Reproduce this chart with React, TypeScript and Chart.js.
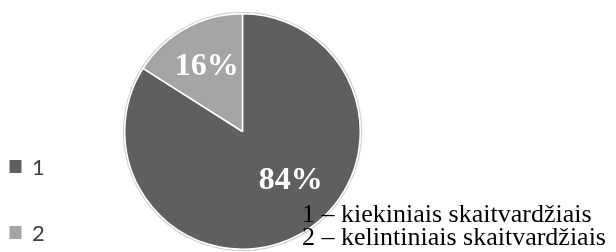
import React, { useEffect, useRef } from "react";
import { Chart, registerables } from "chart.js";

Chart.register(...registerables);

const categories = ["1", "2"];
const values = [84, 16];
const valueLabels = ["84%", "16%"];
const colors = ["#5f5f5f", "#a5a5a5"];
const noteLines = ["1 – kiekiniais skaitvardžiais", "2 – kelintiniais skaitvardžiais"];

const overlayPlugin = {
  id: "overlay",
  beforeDatasetsDraw(chart: any) {
    const ctx = chart.ctx;
    const arc = chart.getDatasetMeta(0).data[0];
    if (!arc) return;
    ctx.save();
    ctx.beginPath();
    ctx.arc(arc.x, arc.y, arc.outerRadius + 1.2, 0, Math.PI * 2);
    ctx.strokeStyle = "rgba(0,0,0,0.18)";
    ctx.lineWidth = 1.5;
    ctx.stroke();
    ctx.restore();
  },
  afterDatasetsDraw(chart: any) {
    const ctx = chart.ctx;
    const meta = chart.getDatasetMeta(0);
    const place = [
      { frac: 0.585, shift: -15.6 },
      { frac: 0.63, shift: 0 },
    ];
    ctx.save();
    // data labels
    ctx.font = "bold 32px 'Liberation Serif', 'Times New Roman', serif";
    ctx.fillStyle = "#ffffff";
    ctx.textAlign = "center";
    ctx.textBaseline = "middle";
    meta.data.forEach((arc: any, i: number) => {
      const mid = (arc.startAngle + arc.endAngle) / 2 + (place[i].shift * Math.PI) / 180;
      const d = arc.outerRadius * place[i].frac;
      ctx.fillText(valueLabels[i], arc.x + d * Math.cos(mid), arc.y + d * Math.sin(mid));
    });
    // legend
    const legendY = [160, 226];
    ctx.textAlign = "left";
    ctx.textBaseline = "alphabetic";
    ctx.font = "22px Lato, 'Open Sans', sans-serif";
    categories.forEach((c, i) => {
      ctx.fillStyle = colors[i];
      ctx.fillRect(9.5, legendY[i], 12, 13);
      ctx.fillStyle = "#404040";
      ctx.fillText(c, 32, legendY[i] + 15);
    });
    // note text
    ctx.fillStyle = "#000000";
    ctx.font = "26px 'Liberation Serif', 'Times New Roman', serif";
    ctx.fillText(noteLines[0], 302, 222);
    ctx.fillText(noteLines[1], 302, 245);
    ctx.restore();
  },
};

export default function App() {
  const ref = useRef<HTMLCanvasElement>(null);
  useEffect(() => {
    if (!ref.current) return;
    const chart = new Chart(ref.current, {
      type: "pie",
      data: {
        labels: categories,
        datasets: [
          {
            data: values,
            backgroundColor: colors,
            borderColor: "#ffffff",
            borderWidth: 1.5,
          },
        ],
      },
      options: {
        responsive: false,
        animation: false,
        layout: { padding: { top: 13, bottom: 2, left: 124, right: 255 } },
        plugins: {
          legend: { display: false },
          tooltip: { enabled: false },
        },
      },
      plugins: [overlayPlugin],
    });
    return () => chart.destroy();
  }, []);
  return (
    <div style={{ position: "absolute", left: 0, top: 0, width: 616, height: 252, background: "#fff" }}>
      <canvas ref={ref} width={616} height={252} style={{ width: 616, height: 252 }} />
    </div>
  );
}
